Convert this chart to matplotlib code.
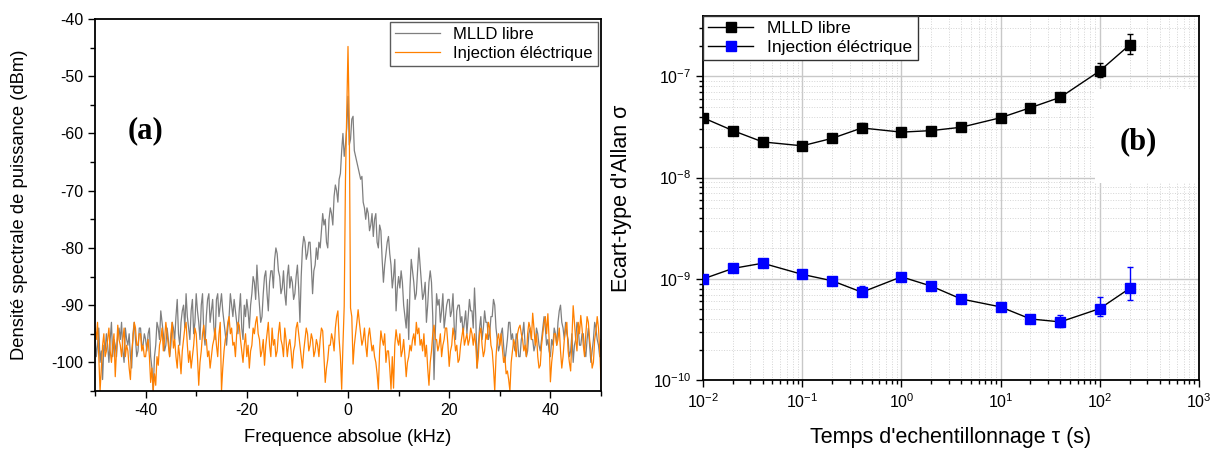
import numpy as np
import matplotlib
matplotlib.use("Agg")
import matplotlib.pyplot as plt
from matplotlib.patches import Rectangle
from matplotlib.ticker import MultipleLocator, LogLocator, NullFormatter

plt.rcParams["font.family"] = ["Liberation Sans", "DejaVu Sans"]
plt.rcParams["axes.unicode_minus"] = False
plt.rcParams["mathtext.default"] = "regular"

# ─── Data: spectrum (a), 0.25 kHz steps from -50 to +50 kHz ───────────────────
mlld_dbm = [
    -95, -99, -97, -94, -100, -98, -103, -97, -98, -95, -97, -100, -96, -93, -99, -96, -97, -99, -95, -94,
    -96, -93, -98, -100, -94, -96, -97, -95, -99, -101, -95, -93, -96, -99, -98, -94, -94, -97, -97, -95,
    -96, -98, -95, -94, -99, -101, -105, -99, -97, -93, -94, -96, -91, -93, -95, -98, -97, -94, -96, -99,
    -97, -93, -94, -96, -92, -89, -95, -97, -93, -91, -90, -94, -88, -92, -94, -96, -91, -89, -95, -93,
    -88, -91, -93, -96, -90, -88, -95, -97, -92, -89, -88, -93, -91, -89, -94, -96, -89, -88, -92, -90,
    -88, -91, -93, -95, -97, -94, -92, -88, -90, -92, -89, -91, -93, -95, -91, -88, -94, -96, -90, -92,
    -89, -91, -94, -90, -88, -85, -86, -89, -83, -87, -90, -93, -92, -88, -85, -84, -88, -91, -86, -84,
    -84, -87, -82, -80, -81, -84, -85, -88, -87, -84, -88, -90, -85, -83, -87, -85, -86, -89, -88, -85,
    -83, -87, -93, -85, -80, -78, -79, -82, -81, -79, -79, -83, -88, -84, -83, -80, -82, -79, -80, -77,
    -74, -76, -75, -79, -80, -75, -73, -74, -76, -71, -69, -70, -72, -68, -67, -63, -60, -64, -62, -59,
    -53.5, -62, -61, -57.5, -57, -63, -64, -65, -66, -67, -68, -67.5, -72, -73, -75, -73, -74, -77, -76, -74,
    -78, -75, -74, -79, -80, -76, -77, -82, -86, -83, -81, -79, -78, -81, -83, -87, -85, -82, -91, -87,
    -85, -87, -84, -86, -90, -92, -94, -89, -96, -87, -82, -84, -86, -89, -88, -84, -80, -83, -86, -89,
    -88, -86, -93, -90, -86, -84, -86, -92, -103, -95, -88, -90, -89, -93, -91, -88, -94, -92, -90, -89,
    -89, -92, -91, -88, -94, -96, -91, -90, -90, -93, -92, -95, -93, -91, -95, -92, -89, -91, -91, -94,
    -87, -92, -101, -97, -94, -92, -96, -94, -91, -93, -93, -96, -95, -92, -92, -89, -90, -94, -96, -98,
    -97, -95, -94, -97, -100, -98, -96, -93, -93, -96, -95, -97, -98, -95, -96, -99, -99, -96, -95, -93,
    -97, -99, -98, -95, -94, -96, -96, -98, -97, -94, -95, -97, -98, -96, -94, -92, -94, -97, -96, -98,
    -99, -96, -97, -94, -95, -97, -93, -91, -90, -93, -94, -96, -93, -95, -96, -99, -98, -95, -100, -97,
    -96, -93, -94, -97, -97, -95, -95, -98, -99, -96, -94, -97, -100, -98, -96, -93, -94, -96, -97, -99,
    -96,
]
inj_dbm = [
    -94, -96, -93, -99, -105, -101, -97, -95, -99, -98, -96, -94, -98, -100, -97, -95, -102.5, -98, -93.5, -96,
    -97, -99, -96, -94, -99, -97, -98, -101, -103, -98, -96, -93, -94, -97, -97, -95, -95, -98, -97, -99,
    -99, -97, -96, -99, -103.5, -101, -105, -102, -104, -99, -100.5, -97, -96, -94, -98, -96, -93, -95, -97, -99,
    -95, -93, -97.5, -96, -99, -101, -97, -99, -102, -98, -96, -94, -93, -97, -100, -98, -101, -99, -97, -94,
    -95, -99, -104, -100, -98, -95, -93.5, -96, -96, -99, -98, -101, -99, -97, -96, -94, -97, -99, -95, -93,
    -105, -101, -98, -96, -95, -93, -92, -95, -94, -97, -96.5, -99, -95, -93, -93.5, -96, -98, -100, -97, -95,
    -99, -97, -101, -98, -97, -94, -95, -93, -92, -95, -96, -99, -98, -96, -100.5, -97, -95, -93, -97, -99,
    -94, -97, -96, -99, -98, -95, -93, -96, -97, -99, -94, -96, -99, -97, -96, -98, -101, -98, -97, -94,
    -93, -95, -97, -99, -101, -98, -96, -94, -95, -98, -97, -95, -96, -99, -98, -96, -97, -99, -96, -94,
    -94.5, -99, -103.5, -101, -99.5, -97, -97, -95, -96, -98, -94, -92, -91, -96, -99, -104.7, -97, -90.2, -68, -56,
    -44.8, -58, -90.5, -92, -100.3, -97, -95, -93, -90.8, -93, -95, -97, -96, -94, -97, -99, -95.5, -94, -96, -98,
    -97, -99, -100, -102, -104.7, -98, -94.5, -96, -97, -95, -100, -98, -98, -101, -104.7, -99, -104.5, -97, -94.3, -96,
    -97, -95, -99, -98, -96, -99, -102.5, -100, -99, -97, -98, -96, -95, -97, -93, -95, -94, -97, -96, -98,
    -95, -99, -97, -101, -104, -100, -98, -95, -93.5, -96, -96, -98, -97, -95, -99, -97, -96, -94, -94, -97,
    -100.7, -98, -97, -94, -95.5, -98, -97, -100, -99.5, -97, -95.5, -94, -97, -96, -95, -97, -96, -94, -95, -97,
    -95, -97, -101, -99, -95, -94, -97, -99, -98, -95, -96, -93, -94, -97, -98, -101, -105, -99, -96, -95,
    -97, -95, -97.5, -100, -99, -102, -101.5, -103, -105, -100, -98, -96, -97, -99, -95, -94, -93.5, -95, -96, -98,
    -97, -99, -95, -93, -94, -96, -91.4, -94, -97, -95, -99, -101, -100.5, -97, -95, -93, -92, -95, -91.5, -96,
    -103.4, -100, -98, -95, -95, -97, -96, -94, -98, -101, -99, -96, -94, -93, -98, -100, -101.5, -96, -90.1, -93,
    -96, -98, -93, -95, -91.8, -94, -97, -99, -95, -92, -93, -96, -98, -101, -100, -96, -94.5, -92, -94, -98,
    -103,
]
freq_khz = np.linspace(-50, 50, len(mlld_dbm))

# ─── Data: Allan deviation (b) ───────────────────────────────────────────────
tau_s = [0.01, 0.02, 0.04, 0.1, 0.2, 0.4, 1, 2, 4, 10, 20, 40, 100, 200]
sigma_libre = [3.9e-8, 2.91e-8, 2.25e-8, 2.06e-8, 2.44e-8, 3.09e-8, 2.81e-8,
               2.91e-8, 3.14e-8, 3.9e-8, 4.9e-8, 6.2e-8, 1.13e-7, 2.04e-7]
libre_err_lo = [0.1, 0.1, 0.1, 0.1, 0.1, 0.3, 0.1, 0.1, 0.1, 0.1, 0.2, 0.3, 1.5, 3.7]   # x1e-8
libre_err_hi = [0.1, 0.1, 0.1, 0.1, 0.1, 0.4, 0.1, 0.1, 0.1, 0.1, 0.2, 0.3, 2.1, 6.0]   # x1e-8
sigma_inj = [1.0e-9, 1.27e-9, 1.43e-9, 1.11e-9, 0.96e-9, 0.74e-9, 1.05e-9,
             0.85e-9, 0.635e-9, 0.53e-9, 0.403e-9, 0.377e-9, 0.51e-9, 0.807e-9]
inj_err_lo = [0.3, 0.3, 0.3, 0.3, 0.3, 0.6, 0.3, 0.3, 0.3, 0.3, 0.3, 0.45, 0.8, 1.8]   # x1e-10
inj_err_hi = [0.3, 0.3, 0.3, 0.3, 0.3, 1.2, 0.3, 0.3, 0.3, 0.3, 0.3, 0.6, 1.6, 5.2]    # x1e-10

GRAY = "#7f7f7f"
ORANGE = "#ff8000"
BLUE = "#0000ff"

W, H = 1216, 453
fig = plt.figure(figsize=(W / 100, H / 100), dpi=100)
fig.patch.set_facecolor("white")

# ═══════════════════ (a) spectrum ═══════════════════
ax1 = fig.add_axes([95 / W, (H - 391) / H, 506 / W, 372 / H])
ax1.plot(freq_khz, mlld_dbm, color=GRAY, lw=0.9, label="MLLD libre")
ax1.plot(freq_khz, inj_dbm, color=ORANGE, lw=0.9, label="Injection éléctrique")
ax1.set_xlim(-50, 50)
ax1.set_ylim(-105, -40)
ax1.xaxis.set_major_locator(MultipleLocator(20))
ax1.xaxis.set_minor_locator(MultipleLocator(10))
ax1.yaxis.set_major_locator(MultipleLocator(10))
ax1.yaxis.set_minor_locator(MultipleLocator(5))
ax1.tick_params(which="both", direction="out", width=1.0, labelsize=11.5,
                top=False, right=False)
ax1.tick_params(which="major", length=5)
ax1.tick_params(which="minor", length=3.5)
for s in ax1.spines.values():
    s.set_linewidth(1.3)
ax1.set_xlabel("Frequence absolue (kHz)", fontsize=13.3)
ax1.set_ylabel("Densité spectrale de puissance (dBm)", fontsize=13.2)
ax1.xaxis.set_label_coords(0.5, -0.103)
ax1.yaxis.set_label_coords(-0.132, 0.5)
leg1 = ax1.legend(loc="upper right", fontsize=12, frameon=True, fancybox=False,
                  borderaxespad=0.2, handlelength=2.7, borderpad=0.3,
                  labelspacing=0.2)
leg1.get_frame().set_edgecolor("#333333")
leg1.get_frame().set_linewidth(1.0)
ax1.text(0.099, 0.70, "(a)", transform=ax1.transAxes, ha="center", va="center",
         fontsize=22, fontweight="bold", family="Liberation Serif")

# ═══════════════════ (b) Allan deviation ═══════════════════
ax2 = fig.add_axes([703 / W, (H - 380.3) / H, 496 / W, 364.6 / H])
ax2.set_xscale("log")
ax2.set_yscale("log")
ax2.set_xlim(1e-2, 1e3)
ax2.set_ylim(1e-10, 3.96e-7)
ax2.set_axisbelow(True)

ax2.errorbar(tau_s, sigma_libre,
             yerr=[np.array(libre_err_lo) * 1e-8, np.array(libre_err_hi) * 1e-8],
             fmt="none", ecolor="black", elinewidth=1.0, capsize=2.4, zorder=2)
ax2.errorbar(tau_s, sigma_inj,
             yerr=[np.array(inj_err_lo) * 1e-10, np.array(inj_err_hi) * 1e-10],
             fmt="none", ecolor=BLUE, elinewidth=1.0, capsize=2.4, zorder=2)
ax2.plot(tau_s, sigma_libre, color="black", lw=1.0, marker="s", ms=7.5,
         mfc="black", mec="black", label="MLLD libre", zorder=3)
ax2.plot(tau_s, sigma_inj, color="black", lw=1.0, marker="s", ms=7.5,
         mfc=BLUE, mec=BLUE, label="Injection éléctrique", zorder=3)

ax2.xaxis.set_major_locator(LogLocator(base=10, numticks=10))
ax2.xaxis.set_minor_locator(LogLocator(base=10, subs=np.arange(2, 10), numticks=20))
ax2.yaxis.set_major_locator(LogLocator(base=10, numticks=10))
ax2.yaxis.set_minor_locator(LogLocator(base=10, subs=np.arange(2, 10), numticks=20))
ax2.xaxis.set_minor_formatter(NullFormatter())
ax2.yaxis.set_minor_formatter(NullFormatter())
ax2.grid(True, which="major", color="#c8c8c8", lw=1.0, ls="-")
ax2.grid(True, which="minor", color="#d4d4d4", lw=0.7, ls=":")
ax2.tick_params(which="both", direction="out", width=1.0, labelsize=11.5,
                top=False, right=False)
ax2.tick_params(which="major", length=5)
ax2.tick_params(which="minor", length=3)
for s in ax2.spines.values():
    s.set_linewidth(1.3)
ax2.set_xlabel("Temps d'echentillonnage τ (s)", fontsize=15.5)
ax2.set_ylabel("Ecart-type d'Allan σ", fontsize=15.5)
ax2.xaxis.set_label_coords(0.5, -0.128)
ax2.yaxis.set_label_coords(-0.143, 0.5)
leg2 = ax2.legend(loc="upper left", fontsize=12.5, frameon=True, fancybox=False,
                  borderaxespad=0.0, handlelength=2.6, borderpad=0.3,
                  labelspacing=0.2, framealpha=1.0)
leg2.get_frame().set_edgecolor("#333333")
leg2.get_frame().set_linewidth(1.0)
# white patch behind the (b) label hides the grid, as in the original figure
ax2.add_patch(Rectangle((0.79, 0.541), 0.207, 0.258, transform=ax2.transAxes,
                        facecolor="white", edgecolor="none", zorder=1))
ax2.text(0.877, 0.654, "(b)", transform=ax2.transAxes, ha="center", va="center",
         fontsize=22, fontweight="bold", family="Liberation Serif", zorder=4)

fig.savefig("out.png", dpi=100, facecolor="white")
print(len(mlld_dbm), len(inj_dbm))
